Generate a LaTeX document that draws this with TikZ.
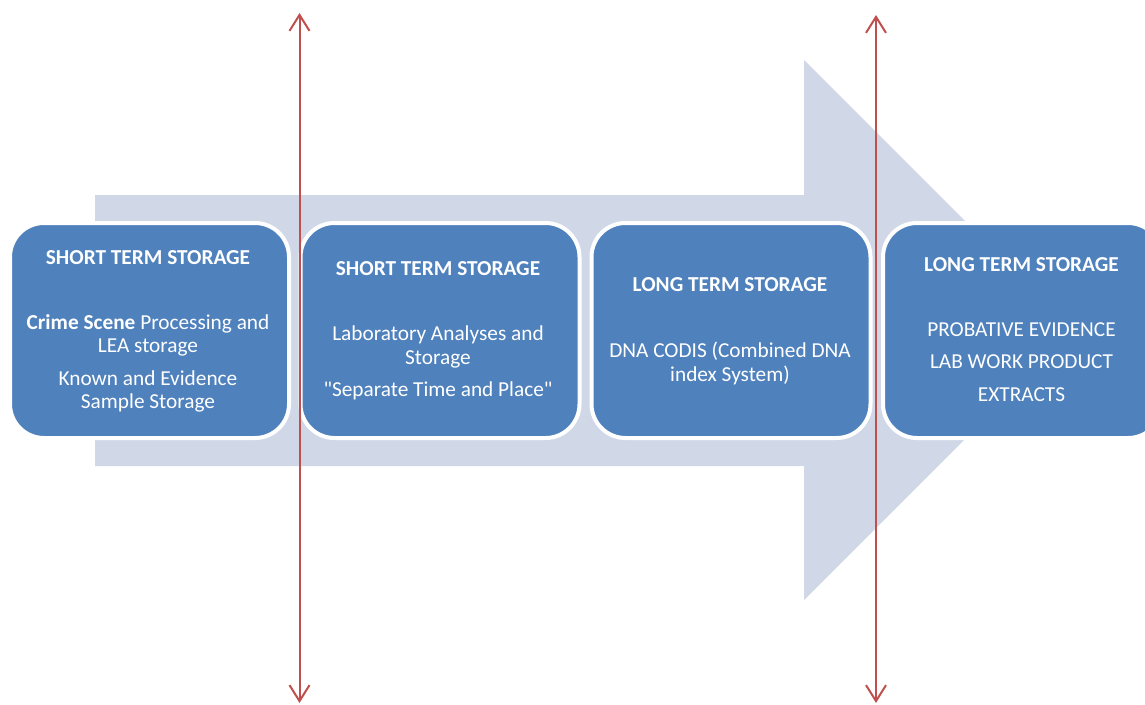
\documentclass[tikz,border=0pt]{standalone}
\usepackage{fontspec}
\setmainfont{Carlito}[Ligatures=TeXOff]
\usetikzlibrary{arrows.meta}
\definecolor{boxblue}{HTML}{4F81BD}
\definecolor{arrowgray}{HTML}{D0D8E8}
\definecolor{redline}{HTML}{C0504D}
\begin{document}
\begin{tikzpicture}[x=1pt,y=-1pt,
  stage/.style={draw=white, line width=4pt, fill=boxblue, rounded corners=34pt,
    minimum width=279pt, minimum height=215pt, inner sep=0pt},
  txt/.style={anchor=base, text=white, font=\fontsize{21.3}{25}\selectfont, inner sep=0pt},
  hd/.style={txt, font=\fontsize{21.3}{25}\selectfont\bfseries},
  marker/.style={draw=redline, line width=2pt,
    {Straight Barb[length=16pt,width=20pt]}-{Straight Barb[length=16pt,width=20pt]}}]
\useasboundingbox (0,0) rectangle (1145,704);
\clip (0,0) rectangle (1145,704);
% big background arrow
\fill[arrowgray] (95,195) -- (804,195) -- (804,60) -- (1074,330) -- (804,600) -- (804,466) -- (95,466) -- cycle;
% stage boxes
\node[stage] (s1) at (149.5,330.5) {};
\node[stage] (s2) at (440,330.5) {};
\node[stage] (s3) at (731,330.5) {};
\node[stage] (s4) at (1022.5,330.5) {};
% box 1
\node[hd]  (h1) at (148,264) {SHORT TERM STORAGE};
\node[txt] (a1) at (148,329.3) {{\bfseries Crime Scene} Processing and};
\node[txt] (a2) at (148,352.7) {LEA storage};
\node[txt] (a3) at (148,385.7) {Known and Evidence};
\node[txt] (a4) at (148,408.3) {Sample Storage};
% box 2
\node[hd]  (h2) at (438,275.7) {SHORT TERM STORAGE};
\node[txt] (b1) at (438,340.7) {Laboratory Analyses and};
\node[txt] (b2) at (438,364.3) {Storage};
\node[txt] (b3) at (438,396.7) {"Separate Time and Place"};
% box 3
\node[hd]  (h3) at (730,291.7) {LONG TERM STORAGE};
\node[txt] (c1) at (730,357.7) {DNA CODIS (Combined DNA};
\node[txt] (c2) at (730,381) {index System)};
% box 4
\node[hd]  (h4) at (1021.5,271) {LONG TERM STORAGE};
\node[txt] (d1) at (1021.5,336.7) {PROBATIVE EVIDENCE};
\node[txt] (d2) at (1021.5,368.3) {LAB WORK PRODUCT};
\node[txt] (d3) at (1021.5,401) {EXTRACTS};
% red markers
\coordinate (t1) at (299.5,13);
\coordinate (u1) at (299.5,703);
\coordinate (t2) at (876,15);
\coordinate (u2) at (876,703);
\draw[marker] (u1) -- (t1);
\draw[marker] (u2) -- (t2);
\end{tikzpicture}
\end{document}
